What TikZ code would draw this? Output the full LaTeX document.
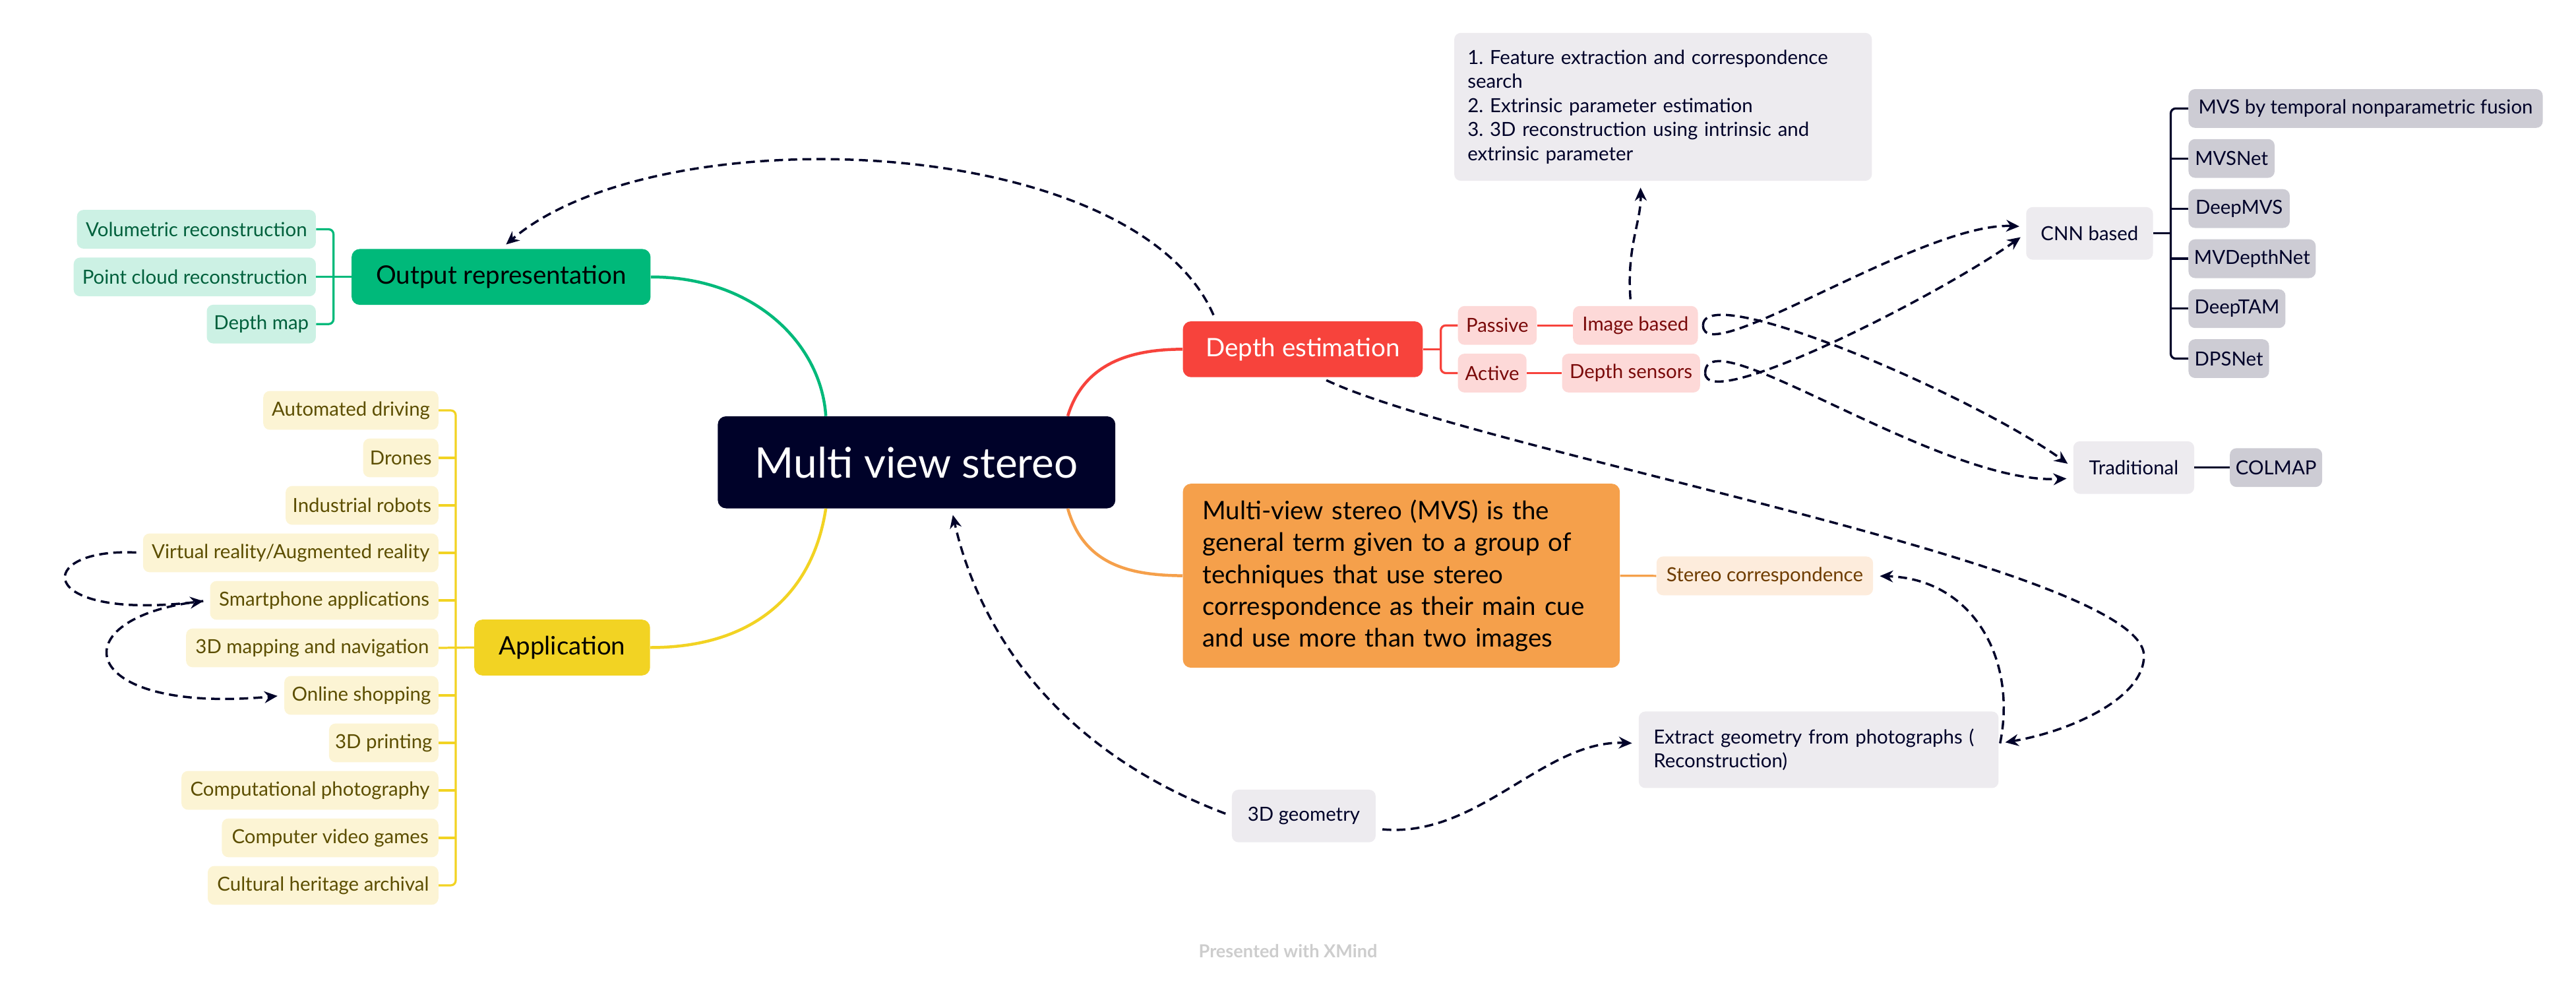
\documentclass[tikz,border=0pt]{standalone}
\usepackage{fontspec}
\setmainfont{Lato}
\usetikzlibrary{arrows.meta}
\frenchspacing

\definecolor{navy}{RGB}{0,2,41}
\definecolor{grn}{RGB}{0,185,122}
\definecolor{grnlt}{RGB}{204,241,228}
\definecolor{grntx}{RGB}{0,96,60}
\definecolor{ylw}{RGB}{242,211,35}
\definecolor{ylwlt}{RGB}{252,244,212}
\definecolor{ylwtx}{RGB}{92,78,0}
\definecolor{rd}{RGB}{247,67,60}
\definecolor{rdlt}{RGB}{253,217,216}
\definecolor{rdtx}{RGB}{122,10,10}
\definecolor{org}{RGB}{245,160,75}
\definecolor{orglt}{RGB}{253,236,220}
\definecolor{orgtx}{RGB}{110,60,0}
\definecolor{gry}{RGB}{237,235,239}
\definecolor{grydk}{RGB}{205,204,212}
\definecolor{footgray}{RGB}{205,205,205}

\tikzset{
  root/.style={fill=navy, text=white, rounded corners=2.5mm, inner xsep=0pt,
    font=\fontsize{36.5}{42}\selectfont, minimum width=121mm, minimum height=28mm},
  topic/.style={rounded corners=2.5mm, inner xsep=0pt, minimum height=17mm,
    font=\fontsize{22}{26}\selectfont},
  leaf/.style={rounded corners=2mm, inner xsep=0pt, minimum height=11.8mm,
    font=\fontsize{16.8}{20}\selectfont},
  graybox/.style={fill=gry, text=navy, rounded corners=2mm, inner xsep=0pt,
    minimum height=16mm, font=\fontsize{16.8}{20}\selectfont},
  branch/.style={line width=0.9mm},
  brace/.style={line width=0.65mm, rounded corners=1.5mm},
  rel/.style={draw=navy, line width=0.7mm, dash pattern=on 2.7mm off 1.6mm,
    shorten <=2mm, shorten >=2mm, -{Stealth[length=4mm,width=3.6mm]}},
}

\begin{document}
\begin{tikzpicture}[x=0.5mm, y=-0.5mm]
    \useasboundingbox (0,0) rectangle (1568,598.95);

    \node[root] (mvs) at (557.9,281.3) {Multi view stereo};

    % output representation
    \node[topic, fill=grn, minimum width=91mm] (out) at (305,168.5) {Output representation};
    \node[leaf, fill=grnlt, text=grntx, minimum width=72.7mm, anchor=east] (vol) at (192.4,139.5) {Volumetric reconstruction};
    \node[leaf, fill=grnlt, text=grntx, minimum width=73.7mm, anchor=east] (pcl) at (192.4,168.5) {Point cloud reconstruction};
    \node[leaf, fill=grnlt, text=grntx, minimum width=33.2mm, anchor=east] (dmap) at (192.4,197.2) {Depth map};

    % application
    \node[topic, fill=ylw, minimum width=53.5mm] (app) at (342.2,394) {Application};
    \node[leaf, fill=ylwlt, text=ylwtx, minimum width=53.3mm, anchor=east] (auto) at (267,249.7) {Automated driving};
    \node[leaf, fill=ylwlt, text=ylwtx, minimum width=22.9mm, anchor=east] (drone) at (267,278.6) {Drones};
    \node[leaf, fill=ylwlt, text=ylwtx, minimum width=46.5mm, anchor=east] (robot) at (267,307.5) {Industrial robots};
    \node[leaf, fill=ylwlt, text=ylwtx, minimum width=89.9mm, anchor=east] (vr) at (267,336.4) {Virtual reality/Augmented reality};
    \node[leaf, fill=ylwlt, text=ylwtx, minimum width=69.5mm, anchor=east] (smart) at (267,365.3) {Smartphone applications};
    \node[leaf, fill=ylwlt, text=ylwtx, minimum width=76.8mm, anchor=east] (map) at (267,394.2) {3D mapping and navigation};
    \node[leaf, fill=ylwlt, text=ylwtx, minimum width=46.9mm, anchor=east] (shop) at (267,423.1) {Online shopping};
    \node[leaf, fill=ylwlt, text=ylwtx, minimum width=33.3mm, anchor=east] (print) at (267,452) {3D printing};
    \node[leaf, fill=ylwlt, text=ylwtx, minimum width=78.2mm, anchor=east] (photo) at (267,480.9) {Computational photography};
    \node[leaf, fill=ylwlt, text=ylwtx, minimum width=65.9mm, anchor=east] (games) at (267,509.8) {Computer video games};
    \node[leaf, fill=ylwlt, text=ylwtx, minimum width=70.2mm, anchor=east] (herit) at (267,538.7) {Cultural heritage archival};

    % depth estimation
    \node[topic, fill=rd, text=white, minimum width=73mm] (de) at (793,212.5) {Depth estimation};
    \node[leaf, fill=rdlt, text=rdtx, minimum width=24mm] (pas) at (911.4,198) {Passive};
    \node[leaf, fill=rdlt, text=rdtx, minimum width=38mm] (img) at (995.5,198) {Image based};
    \node[leaf, fill=rdlt, text=rdtx, minimum width=20.9mm] (act) at (908.3,227) {Active};
    \node[leaf, fill=rdlt, text=rdtx, minimum width=42mm] (dsen) at (992.8,227) {Depth sensors};

    \node[graybox, minimum width=127.1mm, minimum height=45mm, text width=119mm, inner xsep=4mm,
      align=left, font=\fontsize{16.8}{20.8}\selectfont] (steps) at (1012.3,65)
      {1. Feature extraction and correspondence\\search\\2. Extrinsic parameter estimation\\3. 3D reconstruction using intrinsic and\\extrinsic parameter};

    \node[graybox, minimum width=38.6mm] (cnn) at (1271.9,142) {CNN based};
    \node[leaf, fill=grydk, text=navy, minimum width=107.8mm, anchor=west] (fus) at (1332,66) {MVS by temporal nonparametric fusion};
    \node[leaf, fill=grydk, text=navy, minimum width=26.2mm, anchor=west] (mvsn) at (1332,96.4) {MVSNet};
    \node[leaf, fill=grydk, text=navy, minimum width=30.8mm, anchor=west] (dmvs) at (1332,126.9) {DeepMVS};
    \node[leaf, fill=grydk, text=navy, minimum width=38.7mm, anchor=west] (mvdn) at (1332,157.4) {MVDepthNet};
    \node[leaf, fill=grydk, text=navy, minimum width=29.5mm, anchor=west] (dtam) at (1332,187.8) {DeepTAM};
    \node[leaf, fill=grydk, text=navy, minimum width=24.5mm, anchor=west] (dps) at (1332,218.2) {DPSNet};

    \node[graybox, minimum width=36.8mm] (trad) at (1298.8,284.5) {Traditional};
    \node[leaf, fill=grydk, text=navy, minimum width=28.1mm] (colmap) at (1385.4,284.5) {COLMAP};

    % definition
    \node[topic, fill=org, minimum width=133mm, minimum height=56mm, text width=121mm, inner xsep=6mm,
      align=left, font=\fontsize{22}{27.5}\selectfont] (defn) at (853,350.3)
      {Multi-view stereo (MVS) is the\\general term given to a group of\\techniques that use stereo\\correspondence as their main cue\\and use more than two images};
    \node[leaf, fill=orglt, text=orgtx, minimum width=65.9mm] (sc) at (1074.2,350.4) {Stereo correspondence};

    \node[graybox, minimum width=109.5mm, minimum height=23.3mm, text width=100.5mm, inner xsep=4.5mm,
      align=left, font=\fontsize{16.8}{20.8}\selectfont] (ext) at (1107,456.2)
      {Extract geometry from photographs (\\Reconstruction)};
    \node[graybox, minimum width=43.75mm] (geo) at (793.6,496.5) {3D geometry};

    \node[font=\bfseries\fontsize{15.5}{18}\selectfont, text=footgray] (credit) at (784,578.8) {Presented with XMind};

    % branches
    \draw[branch, grn] (out.east) .. controls (460,168.5) and (500,210) .. (mvs.153);
    \draw[branch, ylw] (mvs.-153) .. controls (495,360) and (460,394) .. (app.east);
    \draw[branch, rd] (mvs.17) .. controls (660,220) and (690,212.5) .. (de.west);
    \draw[branch, org] (mvs.-17) .. controls (660,345) and (690,350) .. (defn.west);
    \draw[brace, org] (defn.east) -- (sc.west);

    \draw[brace, grn] (vol.east) -- (203,139.5) -- (203,197.2) -- (dmap.east);
    \draw[brace, grn] (out.west) -- (pcl.east);

    \draw[brace, ylw] (auto.east) -- (277.4,249.7) -- (277.4,538.7) -- (herit.east);
    \draw[brace, ylw] (drone.east) -- (277.4,278.6);
    \draw[brace, ylw] (robot.east) -- (277.4,307.5);
    \draw[brace, ylw] (vr.east) -- (277.4,336.4);
    \draw[brace, ylw] (smart.east) -- (277.4,365.3);
    \draw[brace, ylw] (app.west) -- (map.east);
    \draw[brace, ylw] (shop.east) -- (277.4,423.1);
    \draw[brace, ylw] (print.east) -- (277.4,452);
    \draw[brace, ylw] (photo.east) -- (277.4,480.9);
    \draw[brace, ylw] (games.east) -- (277.4,509.8);

    \draw[brace, rd] (pas.west) -- (877,198) -- (877,227) -- (act.west);
    \draw[brace, rd] (de.east) -- (877,212.5);
    \draw[brace, rd] (pas.east) -- (img.west);
    \draw[brace, rd] (act.east) -- (dsen.west);

    \draw[brace, navy] (fus.west) -- (1321.3,66) -- (1321.3,218.2) -- (dps.west);
    \draw[brace, navy] (cnn.east) -- (1321.3,142);
    \draw[brace, navy] (mvsn.west) -- (1321.3,96.4);
    \draw[brace, navy] (dmvs.west) -- (1321.3,126.9);
    \draw[brace, navy] (mvdn.west) -- (1321.3,157.4);
    \draw[brace, navy] (dtam.west) -- (1321.3,187.8);
    \draw[brace, navy] (trad.east) -- (colmap.west);

    % relationships
    \draw[rel] (de.162) .. controls (690,80) and (400,70) .. (out.north);
    \draw[rel] (img.103) .. controls (990,150) and (999,135) .. (steps.-107);
    \draw[rel, shorten <=0pt] ([xshift=1.5mm]img.east) .. controls +(0,28) and (1170,135) .. (cnn.174);
    \draw[rel, shorten <=0pt] ([xshift=1.5mm]img.east) .. controls +(0,-28) and (1200,240) .. (trad.west);
    \draw[rel, shorten <=0pt] ([xshift=1.5mm]dsen.east) .. controls +(0,25) and (1180,180) .. (cnn.west);
    \draw[rel, shorten <=0pt] ([xshift=1.5mm]dsen.east) .. controls +(0,-35) and (1180,295) .. (trad.-170);
    \draw[rel] (de.-58) .. controls (900,275) and (1305,345) .. (1305,399) .. controls (1305,425) and (1260,445) .. (ext.2);
    \draw[rel] (ext.east) .. controls (1228,400) and (1200,352) .. (sc.east);
    \draw[rel] (geo.west) .. controls (640,455) and (595,380) .. (mvs.-53);
    \draw[rel] (geo.-10) .. controls (900,510) and (940,450) .. (ext.178);
    \draw[rel] (vr.west) .. controls (20,333) and (20,378) .. (smart.west);
    \draw[rel] (smart.west) .. controls (35,375) and (45,435) .. (shop.west);
\end{tikzpicture}
\end{document}
